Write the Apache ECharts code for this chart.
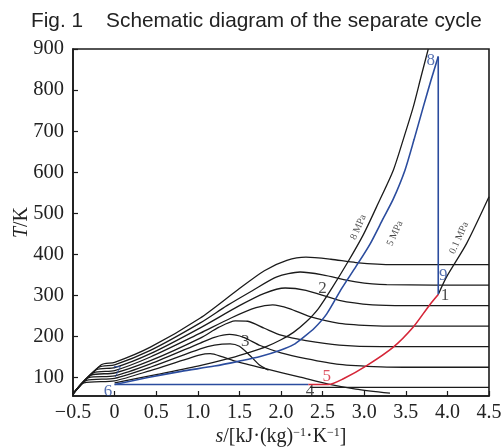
<!DOCTYPE html>
<html>
<head>
<meta charset="utf-8">
<script src="https://cdn.jsdelivr.net/npm/echarts@6/dist/echarts.min.js"></script>
<style>html,body{margin:0;padding:0;background:#fff}#c{width:502px;height:447px}</style>
</head>
<body>
<div id="c"></div>
<script>
// ---- data (s in kJ/(kg K), T in K) ----
const xTickValues = [-0.5, 0, 0.5, 1.0, 1.5, 2.0, 2.5, 3.0, 3.5, 4.0, 4.5];
const yTickValues = [100, 200, 300, 400, 500, 600, 700, 800, 900];

const isenthalp1 = [[-0.5,60],[-0.16,131],[0,137],[0.43,174],[1.03,245],[1.47,312],[1.8,360],[2.07,385],[2.3,393],[2.6,388],[2.9,380],[3.35,375],[4.5,375]];
const isenthalp2 = [[-0.5,60],[-0.19,125],[0,131],[0.43,166],[1.03,233],[1.35,275],[1.66,312],[1.95,345],[2.23,357],[2.5,350],[2.9,333],[3.27,326],[4.5,325]];
const isenthalp3 = [[-0.5,60],[-0.22,119],[0,124],[0.43,158],[1.03,221],[1.5,275],[1.8,305],[2.05,318],[2.3,312],[2.7,288],[3.1,277],[3.5,275],[4.5,275]];
const isenthalp4 = [[-0.5,60],[-0.25,112],[0,117],[0.43,150],[1.03,208],[1.4,245],[1.7,270],[1.9,277],[2.1,268],[2.35,248],[2.7,232],[3.15,226],[3.6,225],[4.5,225]];
const isenthalp5 = [[-0.5,60],[-0.28,106],[0,111],[0.43,141],[1.03,196],[1.25,222],[1.45,238],[1.6,237],[1.8,220],[2.0,203],[2.3,190],[2.7,179],[3.2,175],[4.5,175]];
const isenthalp6 = [[-0.5,60],[-0.31,100],[0,104],[0.43,133],[1.03,184],[1.2,198],[1.38,205],[1.55,198],[1.75,178],[2.0,160],[2.3,146],[2.7,132],[3.2,126],[3.6,125],[4.5,125]];
const isenthalp7 = [[-0.5,60],[-0.34,93],[0,98],[0.43,125],[1.03,170],[1.2,179],[1.39,182],[1.5,176],[1.62,155],[1.75,129],[1.85,118]];
const isenthalp8 = [[-0.5,60],[-0.37,87],[0,92],[0.43,117],[1.03,155],[1.15,158],[1.3,150],[1.45,140],[1.8,122],[2.23,101],[2.57,84],[2.9,72],[3.31,62]];
const isotherm76 = [[2.35,76],[4.5,76]];

const isobar8MPa = [[0,87],[0.5,107],[1.0,128],[1.4,148],[1.63,162],[1.83,176],[2.0,192],[2.15,210],[2.3,235],[2.45,268],[2.61,317],[2.8,380],[2.99,448],[3.17,525],[3.35,605],[3.47,680],[3.59,759],[3.68,830],[3.77,900]];
const isobar01MPa = [[3.89,302],[3.99,345],[4.23,426],[4.5,540]];

const cycleHeating = [[0,83],[0.4,100],[0.8,115],[1.2,128],[1.5,140],[1.75,151],[2.0,167],[2.15,180],[2.27,198],[2.4,220],[2.55,255],[2.73,317],[2.9,370],[3.07,425],[3.23,488],[3.35,535],[3.49,605],[3.6,680],[3.71,759],[3.8,822],[3.89,882]];
const cycleExpansion = [[3.89,882],[3.89,302]];
const cycleLowPressure = [[0,83],[2.33,83]];
const cycleRed = [[2.33,83],[2.57,83],[2.75,97],[3.03,129],[3.35,174],[3.59,223],[3.78,275],[3.89,302]];

const blueLabels = [['8',3.80,871],['9',3.95,349],['6',-0.08,67],['7',0.03,111]];
const redLabels = [['5',2.55,102]];
const blackLabels = [['1',3.97,299],['2',2.50,317],['3',1.57,187],['4',2.35,66]];
const pressureLabels = [['8 MPa',2.93,466],['5 MPa',3.37,451],['0.1 MPa',4.14,440]];

// ---- chart ----
const BLACK = '#1b1b1b', BLUE = '#2b4c9e', RED = '#d52638';
const serif = 'Liberation Serif, Times New Roman, serif';

function line(data, color, width, smooth) {
  return {type:'line', data, showSymbol:false, symbol:'none', silent:true,
    smooth: smooth === undefined ? 0.25 : smooth,
    lineStyle:{color, width}, z: color === BLACK ? 2 : 3, animation:false};
}
function labels(arr, color, size, rotate) {
  return {type:'scatter', symbolSize:0, silent:true, animation:false, z:5,
    data: arr.map(a => ({value:[a[1], a[2]], name:a[0]})),
    label:{show:true, position:'inside', formatter: p => p.name, color,
      fontFamily: serif, fontSize: size, rotate: rotate || 0}};
}

const chart = echarts.init(document.getElementById('c'), null, {renderer:'canvas'});
chart.setOption({
  backgroundColor:'#fff',
  animation:false,
  title:{text:'Fig. 1    Schematic diagram of the separate cycle', left:26, top:6,
    textStyle:{fontFamily:'Liberation Sans, Arial, sans-serif', fontSize:20.8, fontWeight:'normal', color:'#222'}},
  grid:{left:73, right:13, top:49, bottom:51, show:true, borderColor:BLACK, borderWidth:1.6,
    outerBoundsMode:'none', containLabel:false},
  xAxis:{type:'value', min:-0.5, max:4.5, interval:0.5,
    axisLine:{onZero:false, lineStyle:{color:BLACK, width:1.6}},
    axisTick:{inside:true, length:5, lineStyle:{color:BLACK, width:1.2}},
    splitLine:{show:false},
    axisLabel:{color:'#222', fontFamily:serif, fontSize:20, margin:7,
      formatter: v => v === 0 ? '0' : (v < 0 ? '\u2212' : '') + Math.abs(v).toFixed(1)},
    name:'{i|s}{n|/[kJ·(kg)}{s|\u22121}{n|·K}{s|\u22121}{n|]}', nameLocation:'middle', nameGap:31,
    nameMoveOverlap:false,
    nameTextStyle:{rich:{
      i:{fontFamily:serif, fontSize:20, fontStyle:'italic', color:'#222'},
      n:{fontFamily:serif, fontSize:20, color:'#222'},
      s:{fontFamily:serif, fontSize:12, color:'#222', verticalAlign:'top'}}}
  },
  yAxis:{type:'value', min:55, max:900,
    axisLine:{show:true, onZero:false, lineStyle:{color:BLACK, width:1.6}},
    axisTick:{show:true, inside:true, length:5, customValues:yTickValues, lineStyle:{color:BLACK, width:1.2}},
    splitLine:{show:false},
    axisLabel:{color:'#222', fontFamily:serif, fontSize:20.5, margin:9, customValues:yTickValues},
    name:'{i|T}{n|/K}', nameLocation:'middle', nameGap:41, nameMoveOverlap:false,
    nameTextStyle:{rich:{
      i:{fontFamily:serif, fontSize:20, fontStyle:'italic', color:'#222'},
      n:{fontFamily:serif, fontSize:20, color:'#222'}}}
  },
  series:[
    line(isenthalp1, BLACK, 1.3), line(isenthalp2, BLACK, 1.3), line(isenthalp3, BLACK, 1.3),
    line(isenthalp4, BLACK, 1.3), line(isenthalp5, BLACK, 1.3), line(isenthalp6, BLACK, 1.3),
    line(isenthalp7, BLACK, 1.3), line(isenthalp8, BLACK, 1.3), line(isotherm76, BLACK, 1.3, false),
    line(isobar8MPa, BLACK, 1.3), line(isobar01MPa, BLACK, 1.3),
    line(cycleHeating, BLUE, 1.6), line(cycleExpansion, BLUE, 1.6, false),
    line(cycleLowPressure, BLUE, 1.6, false), line(cycleRed, RED, 1.6),
    labels(blueLabels, BLUE, 17), labels(redLabels, RED, 17), labels(blackLabels, BLACK, 17),
    labels(pressureLabels, BLACK, 10, 66)
  ]
});
</script>
</body>
</html>
